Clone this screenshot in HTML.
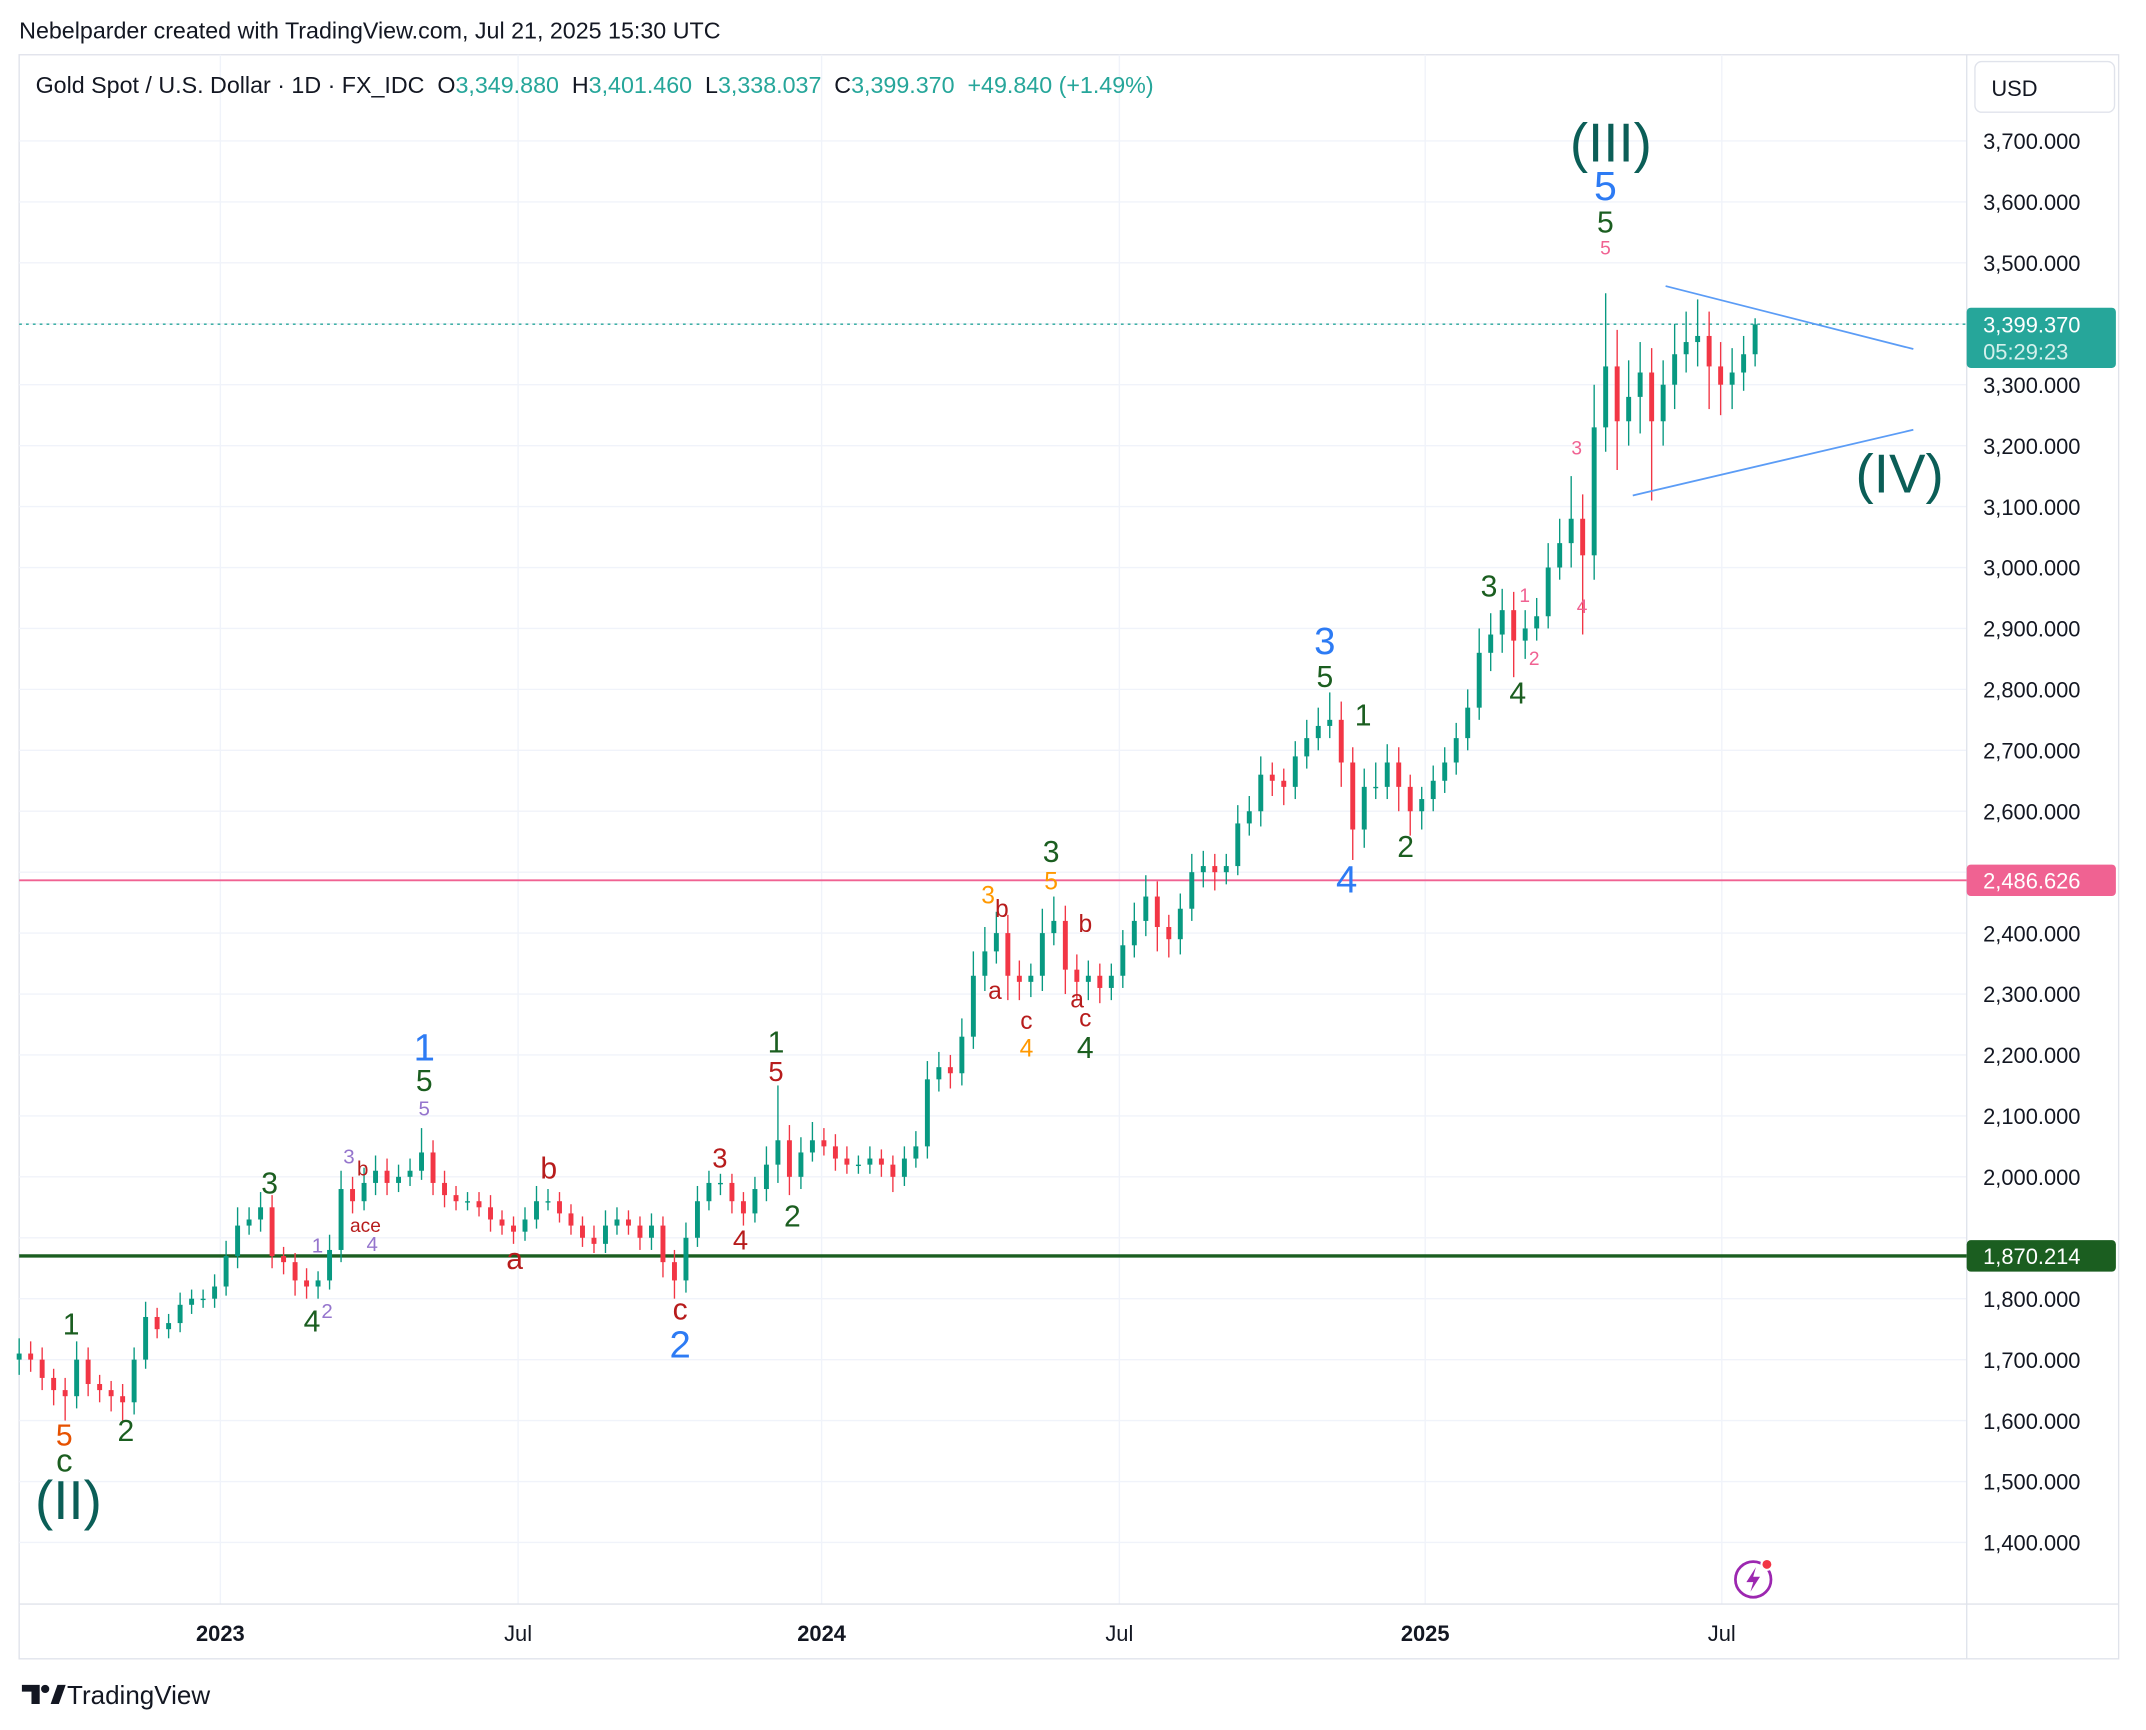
<!DOCTYPE html>
<html><head><meta charset="utf-8">
<style>
html,body{margin:0;padding:0;background:#fff;}
svg{display:block;font-family:"Liberation Sans",sans-serif;}
</style></head>
<body>
<svg id="chart" width="2146" height="1730" viewBox="0 0 1568 1264" preserveAspectRatio="none" xmlns="http://www.w3.org/2000/svg">
<rect x="0" y="0" width="1568" height="1264" fill="#fff"/>
<text x="14" y="28" font-size="17" fill="#131722">Nebelparder created with TradingView.com, Jul 21, 2025 15:30 UTC</text>
<rect x="14" y="40" width="1534" height="1172" fill="none" stroke="#e0e3eb" stroke-width="1"/>
<g id="grid"></g>
<line x1="1437" y1="40" x2="1437" y2="1212" stroke="#e0e3eb"/>
<line x1="14" y1="1172" x2="1548" y2="1172" stroke="#e0e3eb"/>
<g id="levels"></g>
<g id="candles"></g>
<g id="tri">
<line x1="1217" y1="209" x2="1398" y2="255" stroke="#5b9cf6" stroke-width="1.3"/>
<line x1="1193" y1="362" x2="1398" y2="314" stroke="#5b9cf6" stroke-width="1.3"/>
</g>
<g id="waves"></g>
<g id="yaxis"></g>
<g id="xaxis"></g>
<text x="26" y="68" font-size="17" fill="#131722" style="white-space:pre" xml:space="preserve">Gold Spot / U.S. Dollar · 1D · FX_IDC  O<tspan fill="#26a69a">3,349.880</tspan>  H<tspan fill="#26a69a">3,401.460</tspan>  L<tspan fill="#26a69a">3,338.037</tspan>  C<tspan fill="#26a69a">3,399.370  +49.840 (+1.49%)</tspan></text>
<g>
<rect x="1443" y="45" width="102" height="37" rx="5" fill="#fff" stroke="#e0e3eb"/>
<text x="1455" y="70" font-size="16" fill="#131722">USD</text>
</g>
<g>
<circle cx="1281" cy="1154" r="13" fill="none" stroke="#9c27b0" stroke-width="2"/>
<path d="M1283 1145 L1276 1156 L1281 1156 L1279 1163 L1286 1152 L1281 1152 Z" fill="#9c27b0"/>
<circle cx="1291" cy="1143" r="4" fill="#f23645" stroke="#fff" stroke-width="1.5"/>
</g>
<g>
<path d="M16 1231 h13 v14 h-6 v-9 h-7 z" fill="#131722"/>
<circle cx="33" cy="1234" r="3" fill="#131722"/>
<path d="M37 1245 l5 -14 h6 l-5 14 z" fill="#131722"/>
<text x="49" y="1245" font-size="19" fill="#131722">TradingView</text>
</g>
<script>
const closes=[1710,1700,1670,1650,1640,1700,1660,1650,1640,1630,1700,1770,1750,1760,1790,1800,1800,1820,1870,1920,1930,1950,1870,1860,1830,1820,1830,1880,1980,1960,1990,2010,1990,2000,2010,2040,1990,1970,1960,1960,1950,1930,1920,1910,1930,1960,1960,1940,1920,1900,1890,1920,1930,1920,1900,1920,1860,1830,1900,1960,1990,1990,1960,1940,1980,2020,2060,2000,2040,2060,2050,2030,2020,2020,2030,2020,2000,2030,2050,2160,2180,2170,2230,2330,2370,2400,2330,2320,2330,2400,2420,2340,2320,2330,2310,2330,2380,2420,2460,2410,2390,2440,2500,2510,2500,2510,2580,2600,2660,2650,2640,2690,2720,2740,2750,2680,2570,2640,2640,2680,2640,2600,2620,2650,2680,2720,2770,2860,2890,2930,2880,2900,2920,3000,3040,3080,3020,3230,3330,3240,3280,3320,3240,3300,3350,3370,3380,3330,3300,3320,3350,3399];
const wickHi=[25,20,20,15,20,30,20,15,15,20,20,25,15,15,20,15,15,20,25,30,20,25,20,15,15,20,15,25,30,20,25,25,20,20,20,40,20,20,15,15,15,20,15,15,20,25,20,15,15,15,20,25,20,15,15,20,15,20,25,25,20,15,15,15,20,30,90,25,25,30,20,20,20,15,20,15,15,20,25,30,25,20,30,40,40,35,30,25,20,40,40,25,25,25,20,20,25,30,35,25,20,25,30,25,20,20,30,25,30,20,20,25,30,30,45,30,25,30,40,30,25,20,20,25,25,25,30,40,35,35,30,30,30,40,40,70,40,70,120,60,60,50,40,40,50,50,60,40,40,40,30,10];
const wickLo=[25,20,20,25,40,20,20,20,25,30,20,15,15,15,15,15,15,15,15,20,15,20,20,20,25,20,20,15,20,20,15,20,20,15,15,15,20,20,15,15,15,20,15,20,15,15,15,15,15,15,15,15,15,15,20,20,25,30,20,15,15,20,20,20,15,20,30,30,20,15,15,20,15,15,15,20,25,15,15,20,20,25,20,20,25,20,40,30,25,25,20,40,30,30,25,20,20,20,25,40,30,25,20,25,30,20,15,20,25,25,30,20,20,20,20,40,50,30,20,20,40,40,30,20,20,20,20,20,30,30,60,30,20,20,20,40,130,40,40,80,40,60,130,40,40,30,40,70,50,40,30,20];
const yTicks=[1400,1500,1600,1700,1800,1900,2000,2100,2200,2300,2400,2500,2600,2700,2800,2900,3000,3100,3200,3300,3400,3500,3600,3700];
const xTickLabels=["2023","Jul","2024","Jul","2025","Jul"];
const xTickWeeks=[17.5,43.4,69.8,95.7,122.3,148.1];
const levels=[3399.37,2486.626,1870.214];
const NS="http://www.w3.org/2000/svg";
function yS(p){return 103+(3700-p)/100*44.52;}
function xS(i){return 14+i*8.4;}
function el(tag,attrs,parent,txt){const e=document.createElementNS(NS,tag);for(const k in attrs)e.setAttribute(k,attrs[k]);if(txt!==undefined)e.textContent=txt;parent.appendChild(e);return e;}
const grid=document.getElementById('grid'),yaxis=document.getElementById('yaxis'),xaxis=document.getElementById('xaxis');
yTicks.forEach(p=>{const y=yS(p);
 const g=el('line',{x1:14,x2:1437,y1:y,y2:y,stroke:'#f0f3fa'},grid);
 
 
 if(p===1900||p===2500)return;
 const t=el('text',{x:1449,y:y+6,'font-size':16,fill:'#131722'},yaxis,p.toLocaleString('en-US',{minimumFractionDigits:3}));
 
 
});
xTickWeeks.forEach((w,i)=>{const x=xS(w);
 const g=el('line',{x1:x,x2:x,y1:40,y2:1172,stroke:'#f0f3fa'},grid);
 
 
 const bold=xTickLabels[i].length===4;
 const t=el('text',{x:x,y:1199,'font-size':16,'text-anchor':'middle',fill:'#131722','font-weight':bold?'bold':'normal'},xaxis,xTickLabels[i]);
 
 
});
const lv=document.getElementById('levels');
const lvStyle=[{c:'#26a69a',w:1,d:'2 3'},{c:'#f06292',w:1.3,d:''},{c:'#1b5e20',w:2.5,d:''}];
levels.forEach((p,i)=>{const y=yS(p),s=lvStyle[i];
 const l=el('line',{x1:14,x2:1437,y1:y,y2:y,stroke:s.c,'stroke-width':s.w,'stroke-dasharray':s.d},lv);
 
 
 const h=i===0?44:23, top=i===0?y-12:y-11.5;
 const r=el('rect',{x:1437,y:top,width:109,height:h,rx:3,fill:s.c},yaxis);
 
 
 const t=el('text',{x:1449,y:y+6,'font-size':16,fill:'#fff'},yaxis,p.toLocaleString('en-US',{minimumFractionDigits:3}));
 
 
 if(i===0){const t2=el('text',{x:1449,y:y+26,'font-size':16,fill:'#d4f0ec'},yaxis,'05:29:23');
  
  }
});
const cg=document.getElementById('candles');
closes.forEach((c,i)=>{const o=i===0?c-10:closes[i-1];const up=c>=o;const col=up?'#089981':'#f23645';
 const hi=Math.max(o,c)+wickHi[i],lo=Math.min(o,c)-wickLo[i];const x=xS(i);
 const w=el('line',{x1:x,x2:x,y1:yS(hi),y2:yS(lo),stroke:col,'stroke-width':1},cg);
 
 
 const yt=yS(Math.max(o,c)),yb=yS(Math.min(o,c));
 const b=el('rect',{x:x-1.8,y:yt,width:3.6,height:Math.max(1,yb-yt),fill:col},cg);
 
 
});
const DG='#1b5e20',BL='#2d7bf4',TE='#0b5e57',RD='#b71c1c',OR='#ff9800',PU='#9575cd',PK='#f06292',OO='#e65100';
const waves=[[50,1110,'(II)',TE,40],[47,1075,'c',DG,24],[47,1056,'5',OO,22],[52,975,'1',DG,22],[92,1053,'2',DG,22],[197,872,'3',DG,22],[228,973,'4',DG,22],[310,775,'1',BL,28],[310,797,'5',DG,22],[310,815,'5',PU,15],[232,915,'1',PU,15],[239,963,'2',PU,15],[255,850,'3',PU,15],[265,859,'b',RD,15],[267,900,'ace',RD,14],[272,914,'4',PU,15],[401,861,'b',RD,22],[376,927,'a',RD,22],[497,964,'c',RD,22],[497,992,'2',BL,28],[526,853,'3',RD,20],[541,913,'4',RD,20],[567,769,'1',DG,22],[567,790,'5',RD,20],[579,896,'2',DG,22],[722,660,'3',OR,18],[732,670,'b',RD,18],[727,730,'a',RD,18],[750,752,'c',RD,18],[750,772,'4',OR,18],[768,630,'3',DG,22],[768,650,'5',OR,18],[793,681,'b',RD,18],[787,736,'a',RD,18],[793,750,'c',RD,18],[793,773,'4',DG,22],[968,478,'3',BL,28],[968,502,'5',DG,22],[984,652,'4',BL,28],[996,530,'1',DG,22],[1027,626,'2',DG,22],[1088,436,'3',DG,22],[1109,514,'4',DG,22],[1114,440,'1',PK,14],[1121,486,'2',PK,14],[1152,332,'3',PK,14],[1156,448,'4',PK,14],[1177,118,'(III)',TE,40],[1173,146,'5',BL,30],[1173,170,'5',DG,22],[1173,186,'5',PK,14],[1388,360,'(IV)',TE,40]];
const wg=document.getElementById('waves');
waves.forEach(w=>{const t=el('text',{x:w[0],y:w[1],'font-size':w[4],fill:w[3],'text-anchor':'middle'},wg,w[2]);
 
 
});
</script>
</svg>
</body></html>
